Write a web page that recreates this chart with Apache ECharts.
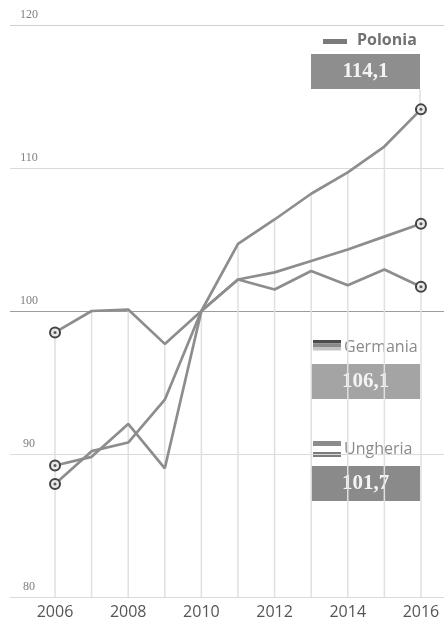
<!DOCTYPE html>
<html>
<head>
<meta charset="utf-8">
<script src="https://cdn.jsdelivr.net/npm/echarts@6/dist/echarts.min.js"></script>
<style>
  html, body { margin: 0; padding: 0; background: #fff; }
  #chart { width: 444px; height: 625px; }
</style>
</head>
<body>
<div id="chart"></div>
<script>
// Index values, 2010 = 100
const years = [2006, 2007, 2008, 2009, 2010, 2011, 2012, 2013, 2014, 2015, 2016];
const polonia  = [87.9, 90.2, 90.8, 93.8, 100, 104.7, 106.4, 108.2, 109.7, 111.5, 114.1];
const germania = [98.5, 100.0, 100.1, 97.7, 100, 102.2, 102.7, 103.5, 104.3, 105.2, 106.1];
const ungheria = [89.2, 89.8, 92.1, 89.0, 100, 102.2, 101.5, 102.8, 101.8, 102.9, 101.7];
const yearTicks = [2006, 2008, 2010, 2012, 2014, 2016];
const valueTicks = [80, 90, 100, 110, 120];

const yMin = valueTicks[0];
const yMax = valueTicks[valueTicks.length - 1];

const fmt = v => v.toFixed(1).replace('.', ',');
const last = arr => arr[arr.length - 1];
const pairs = arr => years.map((y, i) => [y, arr[i]]);
const ends = arr => [[years[0], arr[0]], [last(years), last(arr)]];

const lineGrey = '#8d8d8d';

function countryLine(name, arr) {
  const n = arr.length - 1;
  return {
    name: name,
    type: 'line',
    data: pairs(arr),
    z: 3,
    lineStyle: { color: lineGrey, width: 2.7 },
    symbol: 'circle',
    showSymbol: true,
    symbolSize: (v, p) => (p.dataIndex === 0 || p.dataIndex === n) ? 10 : 0,
    itemStyle: { color: '#e8e8e8', borderColor: '#444', borderWidth: 2 },
    animation: false
  };
}

function centreDots(arr) {
  return {
    type: 'scatter',
    data: ends(arr),
    z: 4,
    symbolSize: 3,
    itemStyle: { color: '#333' },
    silent: true,
    animation: false
  };
}

const chart = echarts.init(document.getElementById('chart'), null, { renderer: 'canvas' });

const serifFont = '"Liberation Serif", "DejaVu Serif", serif';
const sansFont = '"Open Sans", "Noto Sans", sans-serif';

function valueBox(y, fill, text) {
  return [
    { type: 'rect', shape: { x: 311, y: y, width: 109, height: 35 }, style: { fill: fill } },
    {
      type: 'text', x: 365.5, y: y + 18,
      style: { text: text, fill: '#f4f4f4', font: 'bold 21px ' + serifFont, align: 'center', verticalAlign: 'middle' }
    }
  ];
}

const graphics = [].concat(
  // Polonia
  [
    { type: 'rect', shape: { x: 323, y: 39, width: 24, height: 5 }, style: { fill: '#7a7a7a' } },
    { type: 'text', x: 357, y: 40, style: { text: 'Polonia', fill: '#727272', font: 'bold 16px ' + sansFont, verticalAlign: 'middle' } },
    // connector from the value box down to the last point
    { type: 'rect', shape: { x: 419.5, y: 89, width: 1, height: 18 }, style: { fill: '#cfcfcf' } }
  ],
  valueBox(54, '#8e8e8e', fmt(last(polonia))),
  // Germania
  [
    { type: 'rect', shape: { x: 313, y: 340, width: 28, height: 3.5 }, style: { fill: '#4c4c4c' } },
    { type: 'rect', shape: { x: 313, y: 343.5, width: 28, height: 3.5 }, style: { fill: '#8a8a8a' } },
    { type: 'rect', shape: { x: 313, y: 347, width: 28, height: 3.5 }, style: { fill: '#c4c4c4' } },
    { type: 'text', x: 344, y: 347, style: { text: 'Germania', fill: '#8a8a8a', font: '16px ' + sansFont, verticalAlign: 'middle' } }
  ],
  valueBox(364, '#a4a4a4', fmt(last(germania))),
  // Ungheria
  [
    { type: 'rect', shape: { x: 313, y: 441, width: 28, height: 5 }, style: { fill: '#8c8c8c' } },
    { type: 'rect', shape: { x: 313, y: 452, width: 28, height: 5 }, style: { fill: '#7c7c7c' } },
    { type: 'text', x: 344, y: 449, style: { text: 'Ungheria', fill: '#8a8a8a', font: '16px ' + sansFont, verticalAlign: 'middle' } }
  ],
  valueBox(466, '#8a8a8a', fmt(last(ungheria)))
);

chart.setOption({
  backgroundColor: '#ffffff',
  animation: false,
  grid: { left: 10, right: 0, top: 25, bottom: 28, containLabel: false },
  xAxis: {
    type: 'value',
    min: 2004.77,
    max: 2016.63,
    axisLine: { show: false },
    axisTick: { show: false },
    splitLine: { show: false },
    axisLabel: {
      customValues: yearTicks,
      formatter: v => String(v),
      color: '#555',
      fontFamily: sansFont,
      fontSize: 16,
      margin: 7
    }
  },
  yAxis: {
    type: 'value',
    min: yMin,
    max: yMax,
    interval: 10,
    axisLine: { show: false },
    axisTick: { show: false },
    axisLabel: {
      inside: true,
      align: 'center',
      verticalAlign: 'bottom',
      margin: 19,
      padding: [0, 0, 4, 0],
      color: '#808080',
      fontFamily: serifFont,
      fontSize: 12
    },
    splitLine: {
      show: true,
      lineStyle: { color: ['#dadada', '#dadada', '#9c9c9c', '#dadada', '#d0d0d0'], width: 1 }
    }
  },
  series: [
    {
      // vertical drop lines from the highest value of each year down to the base
      type: 'custom',
      z: 1,
      silent: true,
      data: years.map((y, i) => [y, Math.max(polonia[i], germania[i], ungheria[i])]),
      renderItem: (params, api) => {
        const p1 = api.coord([api.value(0), api.value(1)]);
        const p2 = api.coord([api.value(0), yMin]);
        return {
          type: 'line',
          shape: { x1: p1[0], y1: p1[1], x2: p2[0], y2: p2[1] },
          style: { stroke: '#e0e0e0', lineWidth: 1.5 }
        };
      }
    },
    countryLine('Polonia', polonia),
    countryLine('Germania', germania),
    countryLine('Ungheria', ungheria),
    centreDots(polonia),
    centreDots(germania),
    centreDots(ungheria)
  ],
  graphic: graphics
});
</script>
</body>
</html>
